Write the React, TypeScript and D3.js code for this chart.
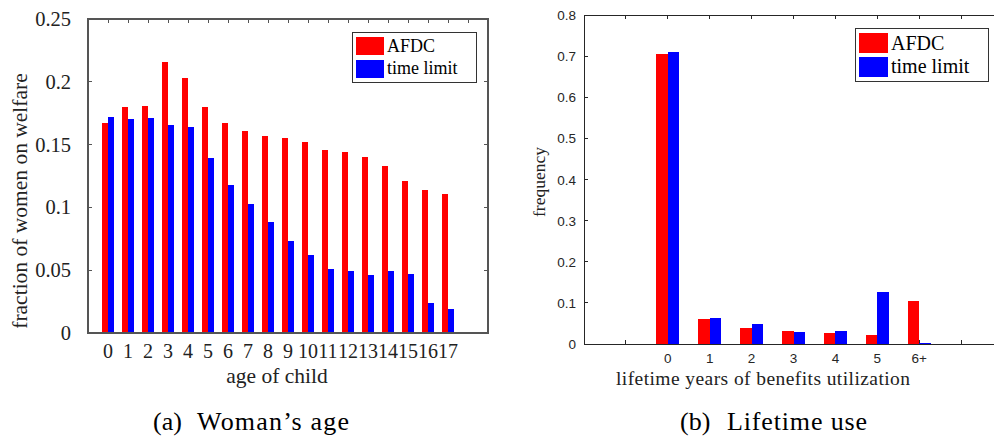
import React from "react";
import * as d3 from "d3";

// Panel (a): fraction of women on welfare by age of child
const childAges = d3.range(0, 18);
const ageAFDC = [0.167, 0.18, 0.181, 0.216, 0.203, 0.18, 0.167, 0.161, 0.157, 0.155, 0.152, 0.146, 0.144, 0.14, 0.133, 0.121, 0.114, 0.111];
const ageTimeLimit = [0.172, 0.17, 0.171, 0.166, 0.164, 0.139, 0.118, 0.103, 0.088, 0.073, 0.062, 0.051, 0.049, 0.046, 0.049, 0.047, 0.024, 0.019];
const ageYTicks = [0, 0.05, 0.1, 0.15, 0.2, 0.25];
const ageYLabels = ["0", "0.05", "0.1", "0.15", "0.2", "0.25"];

// Panel (b): lifetime years of benefit use
const useCategories = ["0", "1", "2", "3", "4", "5", "6+"];
const useAFDC = [0.704, 0.062, 0.04, 0.032, 0.026, 0.023, 0.105];
const useTimeLimit = [0.709, 0.064, 0.048, 0.03, 0.032, 0.126, 0.002];
const useYTicks = [0, 0.1, 0.2, 0.3, 0.4, 0.5, 0.6, 0.7, 0.8];

const seriesNames = ["AFDC", "time limit"];
const seriesColors = ["#ff0000", "#0000ff"];

const SERIF = "'Liberation Serif', 'Times New Roman', serif";
const SANS = "'Liberation Sans', Arial, sans-serif";

function Legend({ x, y, w, h, sw, fs }: { x: number; y: number; w: number; h: number; sw: number; fs: number }) {
  const rowH = (h - 8) / 2;
  return (
    <g>
      <rect x={x} y={y} width={w} height={h} fill="#fff" stroke="#333" strokeWidth={1} />
      {seriesNames.map((n, i) => (
        <g key={n}>
          <rect x={x + 4} y={y + 4 + i * rowH + 1 + i * 1.5} width={sw} height={rowH - 3} fill={seriesColors[i]} />
          <text x={x + 7 + sw} y={y + 4 + i * rowH + rowH * 0.78 + i} fontFamily={SERIF} fontSize={fs} fill="#000">
            {n}
          </text>
        </g>
      ))}
    </g>
  );
}

function Caption({ label, text, lx, tx, tw, y }: { label: string; text: string; lx: number; tx: number; tw: number; y: number }) {
  return (
    <g fontFamily={SERIF} fontSize={26} fill="#000">
      <text x={lx} y={y}>{label}</text>
      <text x={tx} y={y} textLength={tw} lengthAdjust="spacing">{text}</text>
    </g>
  );
}

function AgePanel() {
  const L = 88, R = 488, T = 19, B = 333;
  const x = d3.scaleLinear().domain([-1, 19]).range([L, R]);
  const y = d3.scaleLinear().domain([0, 0.25]).range([B, T]);
  const bw = x(0.3) - x(0);
  const axis = "#555";
  return (
    <g>
      <rect x={L} y={T} width={R - L} height={B - T} fill="#fff" />
      {d3.range(0, 19).map((c) => (
        <line key={"tt" + c} x1={x(c)} x2={x(c)} y1={T} y2={T + 4} stroke={axis} />
      ))}
      {ageYTicks.map((v, i) => (
        <g key={"yt" + i}>
          <line x1={L} x2={L + 4} y1={y(v)} y2={y(v)} stroke={axis} />
          <line x1={R - 4} x2={R} y1={y(v)} y2={y(v)} stroke={axis} />
          <text x={71} y={y(v) + 7} textAnchor="end" fontFamily={SERIF} fontSize={20.5} fill="#222">
            {ageYLabels[i]}
          </text>
        </g>
      ))}
      {childAges.map((c, i) => (
        <g key={"b" + c}>
          <rect x={x(c) - bw} y={y(ageAFDC[i])} width={bw} height={B - y(ageAFDC[i])} fill={seriesColors[0]} />
          <rect x={x(c)} y={y(ageTimeLimit[i])} width={bw} height={B - y(ageTimeLimit[i])} fill={seriesColors[1]} />
          <text x={x(c)} y={358} textAnchor="middle" fontFamily={SERIF} fontSize={20} fill="#222">
            {String(c)}
          </text>
        </g>
      ))}
      <rect x={L} y={T} width={R - L} height={B - T} fill="none" stroke={axis} strokeWidth={1.2} />
      <text x={277} y={383} textAnchor="middle" fontFamily={SERIF} fontSize={21.5} fill="#222">
        age of child
      </text>
      <text transform={`translate(27,201) rotate(-90)`} textAnchor="middle" fontFamily={SERIF} fontSize={21.5} fill="#222">
        fraction of women on welfare
      </text>
      <Legend x={352} y={32} w={124} h={50} sw={28} fs={18} />
      <Caption label="(a)" text="Woman’s age" lx={153} tx={197} tw={152} y={430} />
    </g>
  );
}

function UsePanel() {
  const L = 584, T = 15, B = 344;
  const x = d3.scaleLinear().domain([-2, 8]).range([L, L + 419]);
  const R = x(8);
  const y = d3.scaleLinear().domain([0, 0.8]).range([B, T]);
  const bw = x(0.275) - x(0);
  const axis = "#262626";
  return (
    <g>
      {d3.range(-1, 8).map((c) => (
        <g key={"xt" + c}>
          <line x1={x(c)} x2={x(c)} y1={T} y2={T + 4} stroke={axis} />
          <line x1={x(c)} x2={x(c)} y1={B} y2={B - 4} stroke={axis} />
        </g>
      ))}
      {useYTicks.map((v) => (
        <g key={"yt" + v}>
          <line x1={L} x2={L + 4} y1={y(v)} y2={y(v)} stroke={axis} />
          <line x1={R - 4} x2={R} y1={y(v)} y2={y(v)} stroke={axis} />
          <text x={576} y={y(v) + 5} textAnchor="end" fontFamily={SANS} fontSize={13.5} fill="#262626">
            {d3.format("")(v)}
          </text>
        </g>
      ))}
      {useCategories.map((c, i) => (
        <g key={"b" + c}>
          <rect x={x(i) - bw} y={y(useAFDC[i])} width={bw} height={B - y(useAFDC[i])} fill={seriesColors[0]} />
          <rect x={x(i)} y={y(useTimeLimit[i])} width={bw} height={B - y(useTimeLimit[i])} fill={seriesColors[1]} />
          <text x={x(i)} y={363} textAnchor="middle" fontFamily={SANS} fontSize={13.5} fill="#262626">
            {c}
          </text>
        </g>
      ))}
      <rect x={L} y={T} width={R - L} height={B - T} fill="none" stroke={axis} strokeWidth={1} />
      <text x={616} y={385} textLength={294} lengthAdjust="spacing" fontFamily={SERIF} fontSize={19.5} fill="#222">
        lifetime years of benefits utilization
      </text>
      <text transform={`translate(545,182) rotate(-90)`} textAnchor="middle" fontFamily={SERIF} fontSize={17.5} fill="#222">
        frequency
      </text>
      <Legend x={855} y={28} w={133} h={53} sw={29} fs={20} />
      <Caption label="(b)" text="Lifetime use" lx={680} tx={727} tw={140} y={430} />
    </g>
  );
}

export default function App() {
  return (
    <svg
      width={994}
      height={438}
      style={{ position: "absolute", left: 0, top: 0, background: "#fff" }}
      shapeRendering="crispEdges"
    >
      <rect width={994} height={438} fill="#fff" />
      <AgePanel />
      <UsePanel />
    </svg>
  );
}
